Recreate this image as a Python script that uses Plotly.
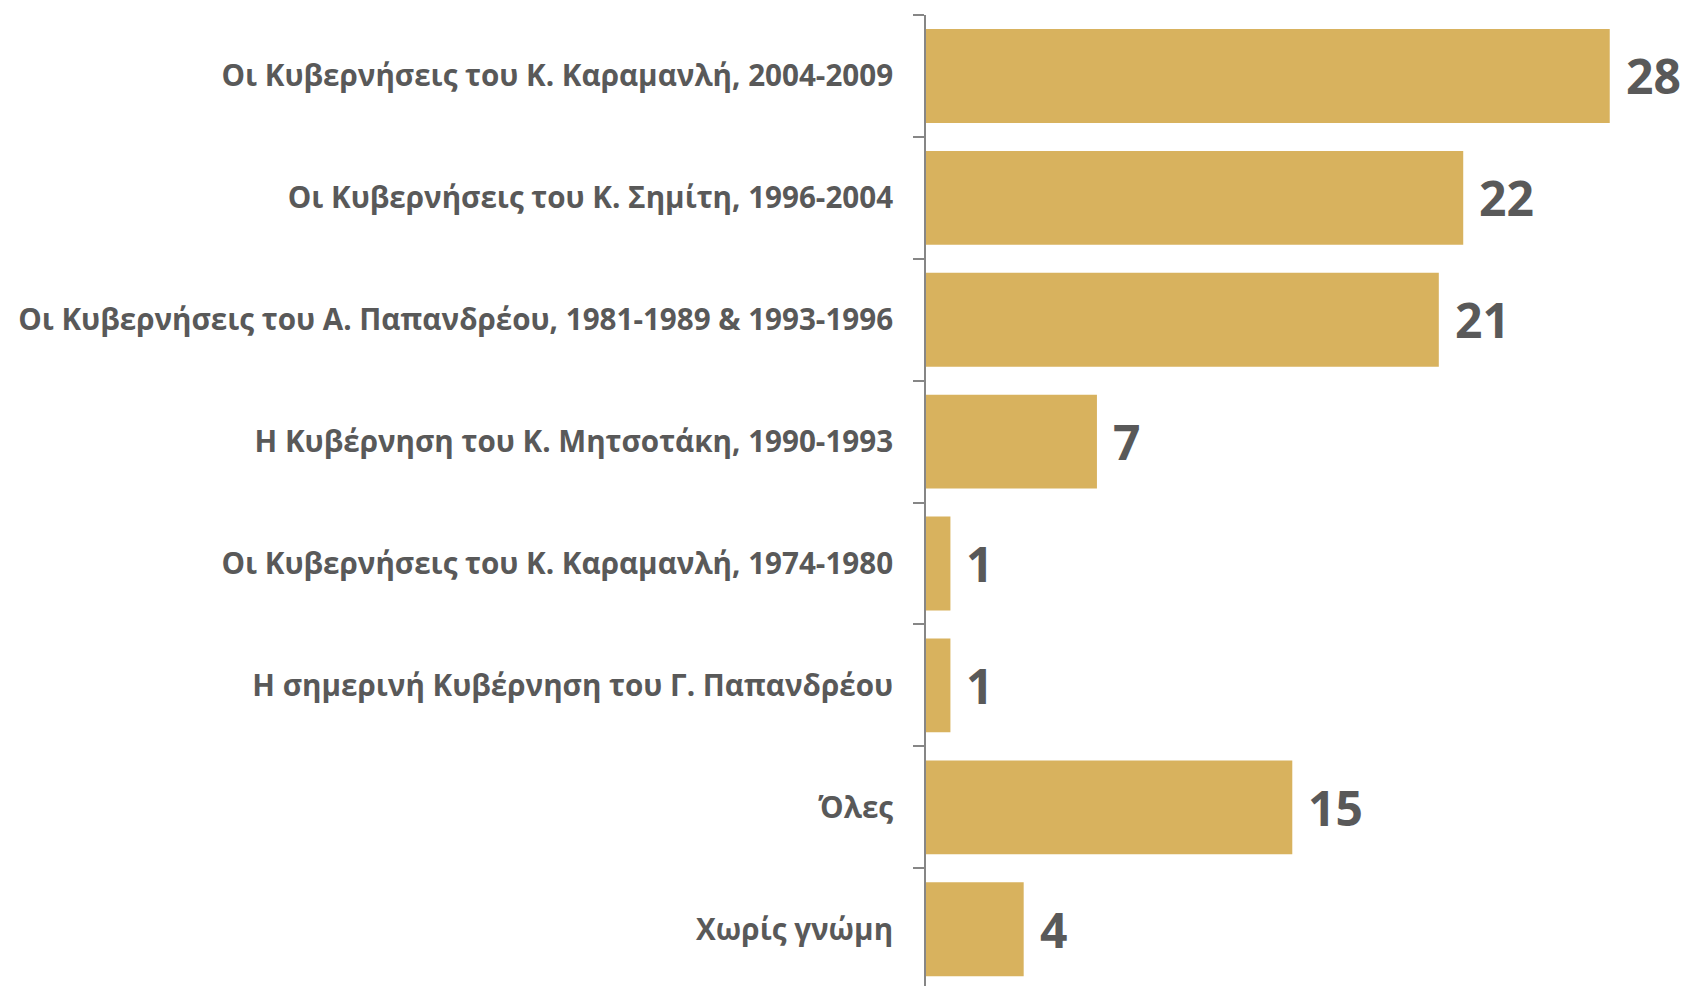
import plotly.graph_objects as go

categories = [
    "Οι Κυβερνήσεις του Κ. Καραμανλή, 2004-2009",
    "Οι Κυβερνήσεις του Κ. Σημίτη, 1996-2004",
    "Οι Κυβερνήσεις του Α. Παπανδρέου, 1981-1989 & 1993-1996",
    "Η Κυβέρνηση του Κ. Μητσοτάκη, 1990-1993",
    "Οι Κυβερνήσεις του Κ. Καραμανλή, 1974-1980",
    "Η σημερινή Κυβέρνηση του Γ. Παπανδρέου",
    "Όλες",
    "Χωρίς γνώμη",
]
values = [28, 22, 21, 7, 1, 1, 15, 4]

BAR = "#D8B25E"
TXT = "#595959"
FONT = "Open Sans"

fig = go.Figure()
fig.add_trace(go.Bar(
    x=values, y=categories, orientation="h",
    marker=dict(color=BAR, line=dict(width=0)),
    width=0.77,
    hoverinfo="skip",
))
for c, v in zip(categories, values):
    fig.add_annotation(x=v, y=c, text=f"<b>{v}</b>", showarrow=False,
                       xanchor="left", yanchor="middle", xshift=14, yshift=0,
                       font=dict(family=FONT, size=48, color=TXT))

fig.update_layout(
    width=1683, height=986,
    margin=dict(l=926, r=0, t=15, b=0, autoexpand=False),
    plot_bgcolor="white", paper_bgcolor="white",
    showlegend=False,
    bargap=0.23,
    xaxis=dict(range=[0, 31], visible=False, fixedrange=True),
    yaxis=dict(
        type="category",
        categoryorder="array", categoryarray=categories,
        range=[7.466, -0.5],
        showline=True, linecolor="#868686", linewidth=2,
        ticks="outside", ticklen=11, tickcolor="#868686", tickwidth=2,
        tickson="boundaries",
        showgrid=False, automargin=False, fixedrange=True,
        ticklabelstandoff=25,
        tickfont=dict(family=FONT, size=29.6, color=TXT, weight="bold"),
    ),
)
fig.write_html(
    "out.html",
    config={"displayModeBar": False},
    post_script="document.body.style.margin='0';document.body.style.overflow='hidden';",
)
